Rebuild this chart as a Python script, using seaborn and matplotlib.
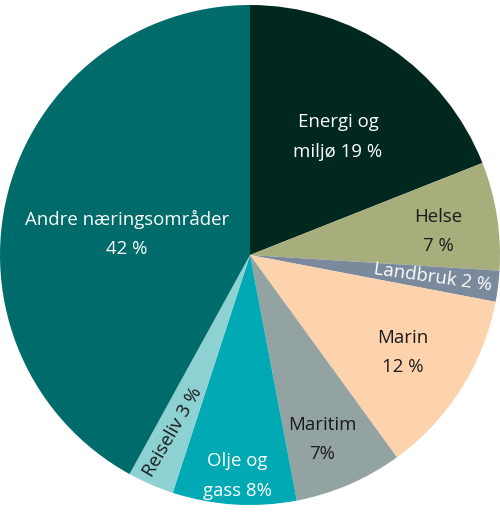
import matplotlib
matplotlib.use("Agg")
import matplotlib.pyplot as plt
import seaborn as sns

sns.set_theme(style="white")
plt.rcParams['font.family'] = ['Open Sans', 'DejaVu Sans']

categories = ["Energi og\nmiljø 19 %", "Helse\n7 %", "Landbruk 2 %", "Marin\n12 %",
              "Maritim\n7%", "Olje og\ngass 8%", "Reiseliv 3 %", "Andre næringsområder\n42 %"]
values = [19, 7, 2, 12, 7, 8, 3, 42]
colors = ["#00281e", "#a8ae7b", "#7a8a9c", "#fdd3ae", "#93a3a2", "#00a9b4", "#8ed1d3", "#006b6b"]
text_colors = ["white", "#1a1a1a", "white", "#1a1a1a", "#1a1a1a", "white", "#1a1a1a", "white"]
label_pos = [(0.352, 0.472), (0.752, 0.094), (0.732, -0.09), (0.612, -0.39),
             (0.288, -0.738), (-0.052, -0.884), (-0.31, -0.708), (-0.492, 0.085)]
label_rot = [0, 0, -8, 0, 0, 0, 60, 0]

fig = plt.figure(figsize=(5.0, 5.12), dpi=100)
ax = fig.add_axes([0, 7 / 512, 1, 500 / 512])
ax.pie(values, colors=sns.color_palette(colors), startangle=90, counterclock=False,
       radius=1.0, wedgeprops=dict(linewidth=0))
for lab, (x, y), rot, tc in zip(categories, label_pos, label_rot, text_colors):
    ax.text(x, y, lab, ha="center", va="center", fontsize=13.4, color=tc,
            rotation=rot, rotation_mode="anchor", linespacing=1.8)
ax.set_xlim(-1, 1)
ax.set_ylim(-1, 1)
ax.set_aspect("equal")
ax.axis("off")
fig.savefig("out.png", dpi=100)
